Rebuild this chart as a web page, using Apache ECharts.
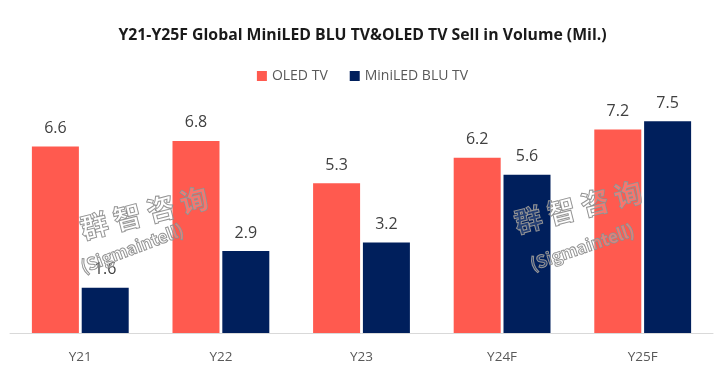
<!DOCTYPE html>
<html><head><meta charset="utf-8">
<script src="https://cdn.jsdelivr.net/npm/echarts@6/dist/echarts.min.js"></script>
<style>html,body{margin:0;padding:0;background:#fff}#c{width:725px;height:375px}</style>
</head><body><div id="c"></div>
<script>
const categories = ['Y21', 'Y22', 'Y23', 'Y24F', 'Y25F'];
const oledTV = [6.6, 6.8, 5.3, 6.2, 7.2];
const miniLedTV = [1.6, 2.9, 3.2, 5.6, 7.5];
const seriesNames = ['OLED TV', 'MiniLED BLU TV'];
const chart = echarts.init(document.getElementById('c'));
const wmText = (x, y, t, size, rot) => ({
  type: 'text', x: x, y: y, rotation: rot, z: 100,
  style: { text: t, fill: 'rgba(255,255,255,0.15)', stroke: '#8c8c8c', lineWidth: 1,
    font: 'bold ' + size + 'px "Noto Sans CJK SC", sans-serif', textAlign: 'center', textVerticalAlign: 'middle' }
});
chart.setOption({
  animation: false,
  title: { text: 'Y21-Y25F Global MiniLED BLU TV&OLED TV Sell in Volume (Mil.)', left: 'center', top: 22,
    textStyle: { fontFamily: '"Open Sans", sans-serif', fontSize: 15.8, fontWeight: 'bold', color: '#1a1a1a' } },
  legend: { top: 64, left: 'center', itemWidth: 10, itemHeight: 10, itemGap: 22, icon: 'rect',
    textStyle: { fontFamily: '"Open Sans", sans-serif', fontSize: 14, color: '#595959' } },
  grid: { left: 10, right: 12, top: 107, bottom: 42 },
  xAxis: { type: 'category', data: categories,
    axisLine: { lineStyle: { color: '#d9d9d9', width: 1 } }, axisTick: { show: false },
    axisLabel: { margin: 17, fontSize: 13.5, color: '#595959', fontFamily: '"Open Sans", sans-serif' } },
  yAxis: { type: 'value', min: 0, max: 8, show: false, splitLine: { show: false } },
  series: [
    { name: seriesNames[0], type: 'bar', data: oledTV, barWidth: 47, barGap: '6%', itemStyle: { color: '#ff5a4f' },
      label: { show: true, position: 'top', distance: 10, fontSize: 16, color: '#404040', fontFamily: '"Open Sans", sans-serif' } },
    { name: seriesNames[1], type: 'bar', data: miniLedTV, barWidth: 47, itemStyle: { color: '#001f5c' },
      label: { show: true, position: 'top', distance: 10, fontSize: 16, color: '#404040', fontFamily: '"Open Sans", sans-serif' } }
  ],
  graphic: [
    wmText(144, 213, '群 智 咨 询', 28, 0.25),
    wmText(132, 248, '(Sigmaintell)', 17, 0.36),
    wmText(578, 207, '群 智 咨 询', 28, 0.25),
    wmText(582, 247, '(Sigmaintell)', 17, 0.33)
  ]
});
</script></body></html>
